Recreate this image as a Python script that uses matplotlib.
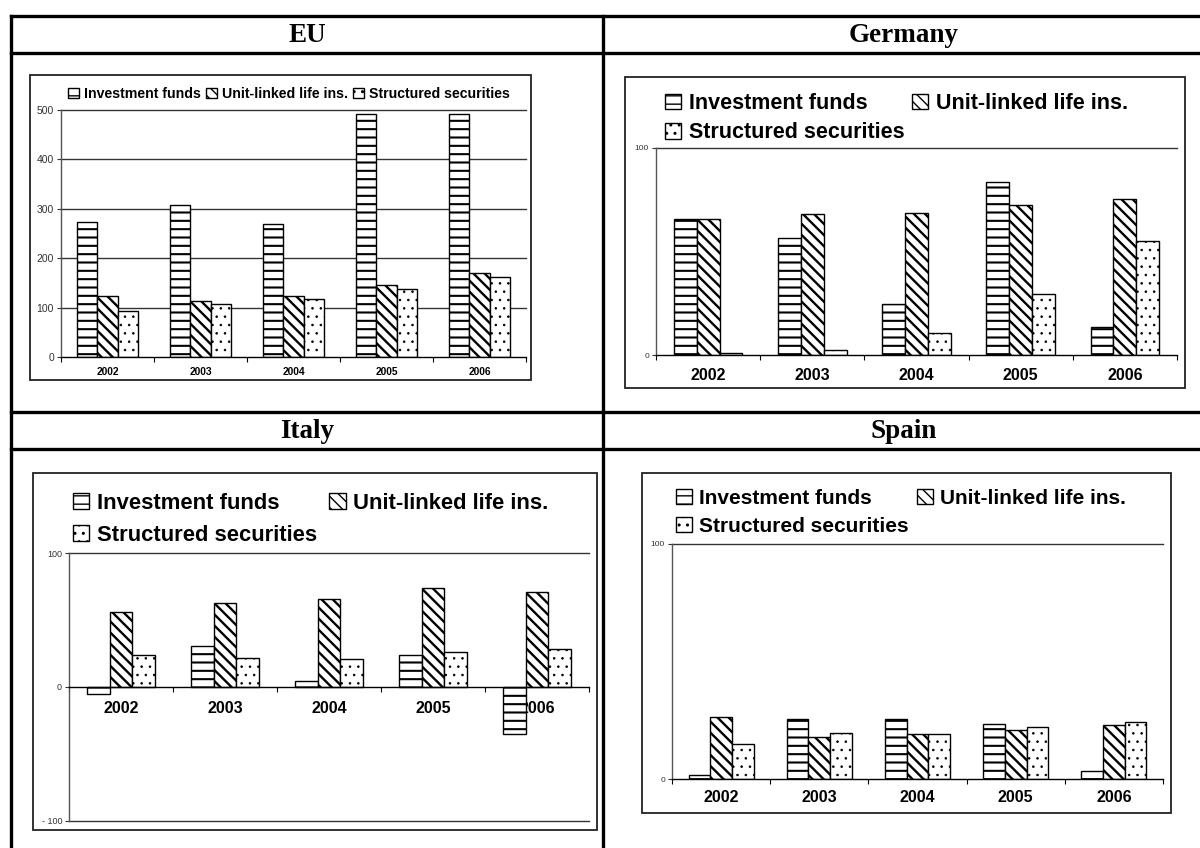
import matplotlib
matplotlib.use('Agg')
import matplotlib.pyplot as plt
from matplotlib.patches import Rectangle
from matplotlib.lines import Line2D

# Net flows into retail investment products, 2002-2006
years = ['2002', '2003', '2004', '2005', '2006']
labels = ['Investment funds', 'Unit-linked life ins.', 'Structured securities']

eu_funds = [273, 307, 270, 492, 492]
eu_unit = [124, 113, 124, 146, 171]
eu_struct = [94, 108, 117, 137, 162]

de_funds = [65.5, 56.7, 24.4, 83.8, 13.6]
de_unit = [65.5, 67.9, 68.5, 72.6, 75.4]
de_struct = [0.8, 2.4, 10.8, 29.5, 54.9]

it_funds = [-5.5, 30.4, 4.2, 24.2, -35.2]
it_unit = [55.6, 62.8, 65.6, 74.1, 71.1]
it_struct = [24.2, 21.9, 20.9, 26.2, 28.2]

es_funds = [1.6, 25.5, 25.5, 23.4, 3.3]
es_unit = [26.5, 18.0, 19.1, 20.7, 22.8]
es_struct = [14.9, 19.7, 19.1, 22.2, 24.4]

W, H = 1200, 848
SANS = 'Liberation Sans'
SERIF = 'Liberation Serif'
# hatch pattern and hatch line width for each series
HATCHES = [('--', 1.5), ('\\\\\\', 1.7), ('..', 0.6)]

plt.rcParams['font.family'] = SANS

fig = plt.figure(figsize=(W / 100, H / 100), dpi=100)


def fx(x):
    return x / W


def fy(y):
    return 1 - y / H


def rect(x0, y0, x1, y1):
    return [fx(x0), fy(y1), (x1 - x0) / W, (y1 - y0) / H]


def hline(y, x0, x1, lw=2.4):
    fig.add_artist(Line2D([fx(x0), fx(x1)], [fy(y), fy(y)], color='black', lw=lw,
                          transform=fig.transFigure))


def vline(x, y0, y1, lw=2.4):
    fig.add_artist(Line2D([fx(x), fx(x)], [fy(y0), fy(y1)], color='black', lw=lw,
                          transform=fig.transFigure))


# table grid
for y in [16, 53, 412, 449]:
    hline(y, 11, 1200)
vline(11, 16, 848)
vline(603, 16, 848)

for name, x, y in [('EU', 307, 35), ('Germany', 904, 35), ('Italy', 307, 432), ('Spain', 904, 432)]:
    fig.text(fx(x), fy(y), name, family=SERIF, weight='bold', fontsize=19.5,
             ha='center', va='center')


def panel(box, area, funds, unit, struct, ylim, yticks, yticklabels, gridvals,
          fs_tick, fs_year, year_pad, fs_leg, leg_at, ncol, colsp, rowsp):
    # chart border
    fig.add_artist(Rectangle((fx(box[0]), fy(box[3])), (box[2] - box[0]) / W,
                             (box[3] - box[1]) / H, transform=fig.transFigure,
                             fill=False, edgecolor='#222222', lw=1.3))
    ax = fig.add_axes(rect(*area))
    x = list(range(len(years)))
    w = 0.22
    bars = []
    for i, (vals, (h, hlw)) in enumerate(zip([funds, unit, struct], HATCHES)):
        pos = [xi + (i - 1) * w for xi in x]
        with plt.rc_context({'hatch.linewidth': hlw}):
            b = ax.bar(pos, vals, width=w, color='white', edgecolor='black', lw=1.0,
                       hatch=h, zorder=3)
        for p in b.patches:
            if hasattr(p, 'set_hatch_linewidth'):
                p.set_hatch_linewidth(hlw)
        bars.append(b)
    ax.set_xlim(-0.5, len(years) - 0.5)
    ax.set_ylim(*ylim)
    for g in gridvals:
        ax.axhline(g, color='#333333', lw=1.0, zorder=1, clip_on=False)
    for s in ['top', 'right']:
        ax.spines[s].set_visible(False)
    ax.spines['left'].set_color('#555555')
    ax.spines['left'].set_linewidth(1.0)
    ax.spines['bottom'].set_position(('data', 0))
    ax.spines['bottom'].set_color('black')
    ax.spines['bottom'].set_linewidth(1.0)
    ax.spines['bottom'].set_zorder(4)
    ax.set_yticks(yticks)
    ax.set_yticklabels(yticklabels)
    ax.tick_params(axis='y', length=3, width=0.8, pad=2, labelsize=fs_tick,
                   colors='#333333', direction='out')
    ax.set_xticks(x)
    ax.set_xticklabels(years, fontweight='bold')
    ax.tick_params(axis='x', which='major', length=0, pad=year_pad, labelsize=fs_year)
    ax.set_xticks([xi - 0.5 for xi in x] + [len(years) - 0.5], minor=True)
    ax.tick_params(axis='x', which='minor', length=3.5, width=0.8, direction='out')
    ax.patch.set_alpha(0)

    if ncol == 3:
        handles, labs = bars, labels
        loc = 'upper center'
    else:
        handles = [bars[0], bars[2], bars[1]]
        labs = [labels[0], labels[2], labels[1]]
        loc = 'upper left'
    fig.legend(handles, labs, loc=loc, bbox_to_anchor=(fx(leg_at[0]), fy(leg_at[1])),
               ncol=ncol, frameon=False, borderpad=0, borderaxespad=0,
               handlelength=0.75, handleheight=0.75, handletextpad=0.35,
               columnspacing=colsp, labelspacing=rowsp,
               prop={'family': SANS, 'weight': 'bold', 'size': fs_leg})
    return ax


panel((30, 75, 531, 380), (61, 110, 526, 357), eu_funds, eu_unit, eu_struct,
      (0, 500), [0, 100, 200, 300, 400, 500], ['0', '100', '200', '300', '400', '500'],
      [100, 200, 300, 400, 500], 7.5, 7.4, 7, 10.2, (289, 87), 3, 0.4, 0.3)

panel((625, 77, 1185, 388), (656, 148, 1177, 355), de_funds, de_unit, de_struct,
      (0, 100), [0, 100], ['0', '100'], [100], 6, 11.5, 9, 15.5, (665, 93), 2, 0.35, 0.38)

panel((33, 473, 597, 830), (69, 553, 589, 821), it_funds, it_unit, it_struct,
      (-100, 100), [-100, 0, 100], ['- 100', '0', '100'], [100, -100], 6.5, 11.5, 10,
      15.8, (73, 493), 2, 0.55, 0.5)

panel((642, 473, 1171, 813), (672, 544, 1163, 779), es_funds, es_unit, es_struct,
      (0, 100), [0, 100], ['0', '100'], [100], 6, 11.5, 8, 15, (676, 489), 2, 0.4, 0.42)

fig.savefig('out.png', dpi=100)
